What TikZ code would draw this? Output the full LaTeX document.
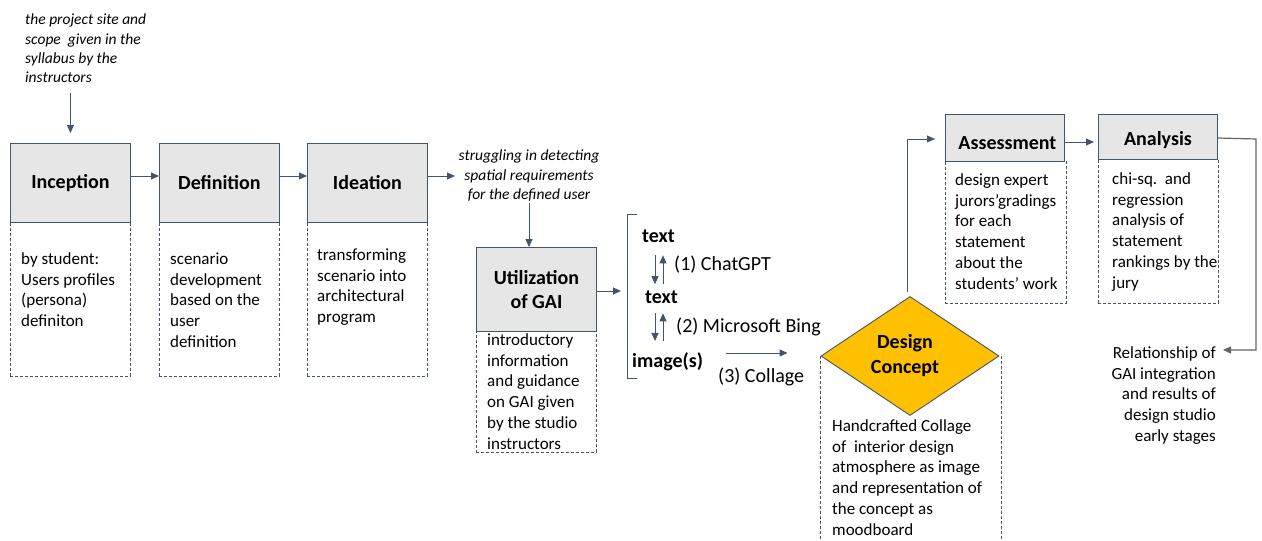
\documentclass[tikz,border=0pt]{standalone}
\usepackage{fontspec}
\setmainfont{Carlito}
\usetikzlibrary{arrows.meta,shapes.geometric}
\definecolor{edge}{HTML}{44546A}
\definecolor{hdr}{HTML}{E7E6E6}
\definecolor{gold}{HTML}{FFC000}
\definecolor{grayline}{HTML}{646464}
\newcommand{\fsbody}{\fontsize{17}{20.8}\selectfont}
\newcommand{\fstitle}{\fontsize{20}{24}\selectfont\bfseries}
\newcommand{\fsnote}{\fontsize{15.5}{19.3}\selectfont\itshape}
\newcommand{\fslabel}{\fontsize{20}{24}\selectfont}
\begin{document}
\begin{tikzpicture}[x=1pt,y=-1pt,
  hdrbox/.style={draw=edge,fill=hdr,line width=0.9pt,anchor=north west,inner sep=0pt,font=\fstitle,align=center},
  descbox/.style={draw=edge,line width=0.8pt,dash pattern=on 3pt off 2pt,anchor=north west,inner sep=0pt},
  bodytext/.style={anchor=north west,inner sep=0pt,align=left,font=\fsbody},
  notetext/.style={inner sep=0pt,font=\fsnote},
  boldlbl/.style={anchor=base west,inner sep=0pt,font=\fstitle},
  toollbl/.style={anchor=base west,inner sep=0pt,font=\fslabel},
  arr/.style={draw=edge,line width=0.9pt,-{Triangle[length=8pt,width=7pt]}},
  grayarr/.style={draw=grayline,line width=1.2pt,-{Triangle[length=8pt,width=7pt]}},
  dashline/.style={draw=edge,line width=0.8pt,dash pattern=on 3pt off 2pt},
]
\useasboundingbox (0,0) rectangle (1262,541);

% dashed description boxes
\node[descbox,minimum width=120pt,minimum height=154pt] (incd) at (10,222) {};
\node[descbox,minimum width=120pt,minimum height=154pt] (defd) at (159,222) {};
\node[descbox,minimum width=120pt,minimum height=154pt] (ided) at (307,222) {};
\node[descbox,minimum width=120pt,minimum height=121pt] (utild) at (476,331) {};
\node[descbox,minimum width=121pt,minimum height=142pt] (assd) at (945,161) {};
\node[descbox,minimum width=120pt,minimum height=144pt] (anad) at (1098,159) {};

% header boxes
\node[hdrbox,minimum width=120pt,minimum height=79pt] (inc) at (10,143) {Inception};
\node[hdrbox,minimum width=120pt,minimum height=79pt] (def) at (159,143) {Definition};
\node[hdrbox,minimum width=120pt,minimum height=79pt] (ide) at (307,143) {Ideation};
\node[hdrbox,minimum width=120pt,minimum height=84pt] (util) at (476,247) {Utilization\\of GAI};
\node[hdrbox,minimum width=119pt,minimum height=47pt,text height=24pt,text depth=0pt] (ass) at (945,114) {\hspace*{5pt}Assessment};
\node[hdrbox,minimum width=119pt,minimum height=45pt,text height=18pt,text depth=0pt] (ana) at (1098,114) {Analysis};

% diamond
\node[diamond,draw=edge,fill=gold,line width=0.9pt,minimum width=178pt,minimum height=119pt,inner sep=0pt,font=\fstitle,align=center] (dc) at (910,356) {\hspace*{-10pt}Design\\[1pt]\hspace*{-10pt}Concept};
\draw[dashline] (dc.west) -- (dc.west |- 0,545);
\draw[dashline] ([xshift=2pt]dc.east) -- ([xshift=2pt]dc.east |- 0,545);

% notes
\node[notetext,anchor=north west,align=left] (n1) at (25,11) {\strut the project site and\\scope\ \ given in the\\syllabus by the\\instructors};
\node[notetext,anchor=north,align=center] (n2) at (529,147) {\strut struggling in detecting\\spatial requirements\\for the defined user};

% body texts
\node[bodytext] (inct) at (21,249.5) {\strut by student:\\Users profiles\\(persona)\\definiton};
\node[bodytext] (deft) at (170,249.5) {\strut scenario\\development\\based on the\\user\\definition};
\node[bodytext] (idet) at (317,245.5) {\strut transforming\\scenario into\\architectural\\program};
\node[bodytext] (utilt) at (487,330.5) {\strut introductory\\information\\and guidance\\on GAI given\\by the studio\\instructors};
\node[bodytext] (asst) at (955,170.5) {\strut design expert\\jurors’gradings\\for each\\statement\\about the\\students’ work};
\node[bodytext] (anat) at (1112,169.5) {\strut chi-sq.\ \ and\\regression\\analysis of\\statement\\rankings by the\\jury};
\node[bodytext] (dct) at (832,416.5) {\strut Handcrafted Collage\\of\ \ interior design\\atmosphere as image\\and representation of\\the concept as\\moodboard};
\node[bodytext,anchor=north east,align=right] (rel) at (1216,343.5) {\strut Relationship of\\GAI integration\\and results of\\design studio\\early stages};

% GAI chain
\node[boldlbl] (t1) at (642,242) {text};
\node[boldlbl] (t2) at (645,303) {text};
\node[boldlbl] (t3) at (632,367) {image(s)};
\node[toollbl] (l1) at (674,270) {(1) ChatGPT};
\node[toollbl] (l2) at (676,332) {(2) Microsoft Bing};
\node[toollbl] (l3) at (718,382) {(3) Collage};
\draw[draw=edge,line width=0.9pt] (637,214) -| (627,378) -- (637,378);

% connectors
\draw[arr,shorten >=10pt] (inc.north |- 0,93) -- (inc.north);
\draw[arr] (inc.east |- 0,176) -- (def.west |- 0,176);
\draw[arr] (def.east |- 0,176) -- (ide.west |- 0,176);
\draw[arr] (ide.east |- 0,176) -- (455,176);
\draw[arr,shorten <=2pt] (n2.south) -- (n2.south |- util.north);
\draw[arr] (util.east |- 0,291) -- (621,291);
\draw[arr,shorten <=13pt,shorten >=6pt] (t1.south -| 655,0) -- (t2.north -| 655,0);
\draw[arr,shorten <=6pt,shorten >=13pt] (t2.north -| 663,0) -- (t1.south -| 663,0);
\draw[arr,shorten <=10pt,shorten >=11pt] (t2.south -| 655,0) -- (t3.north -| 655,0);
\draw[arr,shorten <=11pt,shorten >=10pt] (t3.north -| 663,0) -- (t2.south -| 663,0);
\draw[arr,shorten <=23pt,shorten >=33pt] (t3.east |- 0,353) -- (dc.west |- 0,353);
\draw[arr,shorten >=10pt] ([yshift=4pt]dc.north -| 907,0) |- (ass.west |- 0,139);
\draw[arr,shorten >=4pt] (ass.east |- 0,142) -- (ana.west |- 0,142);
\draw[grayarr,shorten >=7pt] (ana.east |- 0,138) -- (1256,139) |- (rel.north east |- 0,350);
\end{tikzpicture}
\end{document}
